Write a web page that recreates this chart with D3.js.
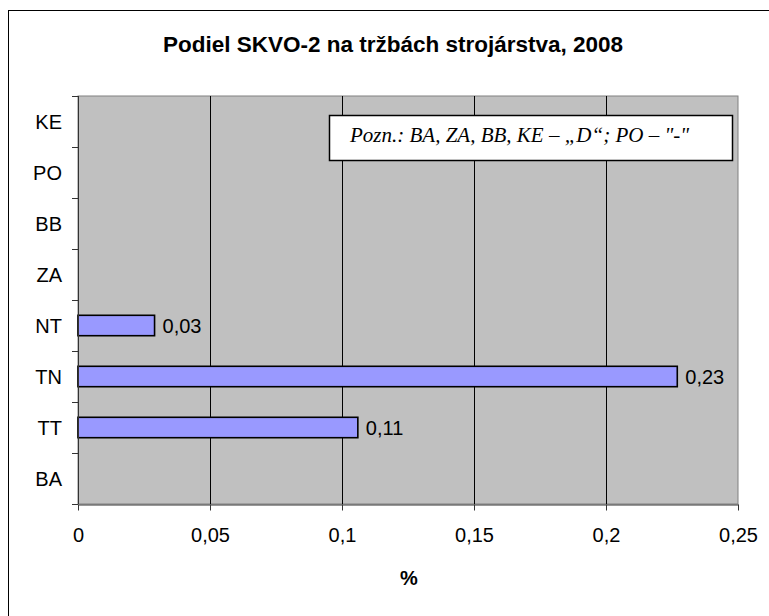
<!DOCTYPE html>
<html>
<head>
<meta charset="utf-8">
<script src="https://cdn.jsdelivr.net/npm/d3@7"></script>
<style>
  body { margin: 0; background: #fff; }
  svg { display: block; }
</style>
</head>
<body>
<script>
// regions top to bottom, as on the chart
const regions = ["KE", "PO", "BB", "ZA", "NT", "TN", "TT", "BA"];
// share in % (null = no data shown)
const shares = [null, null, null, null, 0.029, 0.227, 0.106, null];
const xTicks = [0, 0.05, 0.1, 0.15, 0.2, 0.25];

const titleText = "Podiel SKVO-2 na tržbách strojárstva, 2008";
const noteText = "Pozn.: BA, ZA, BB, KE – „D“; PO – \"-\"";
const axisTitle = "%";

const w = 769, h = 616;
const plot = { left: 78, right: 738, top: 96, bottom: 504 };

const sk = d3.formatLocale({ decimal: ",", thousands: " ", grouping: [3], currency: ["", " €"] });
const tickFmt = sk.format(".2~f");
const labelFmt = sk.format(".2f");

const svg = d3.select("body").append("svg")
    .attr("width", w)
    .attr("height", h)
    .style("font-family", "Arial, 'Liberation Sans', sans-serif");

// outer chart frame (runs past the picture edge at right and bottom)
svg.append("rect")
    .attr("x", 8.5).attr("y", 10.5)
    .attr("width", 900).attr("height", 800)
    .attr("fill", "#fff")
    .attr("stroke", "#000");

svg.append("text")
    .attr("x", 393).attr("y", 52)
    .attr("text-anchor", "middle")
    .style("font-size", "22.5px")
    .style("font-weight", "bold")
    .text(titleText);

let x = d3.scaleLinear().domain([0, 0.25]).range([plot.left, plot.right]);
let y = d3.scaleBand().domain(regions).range([plot.top, plot.bottom])
    .paddingInner(0.6).paddingOuter(0.3);

// plot area
svg.append("rect")
    .attr("x", plot.left).attr("y", plot.top)
    .attr("width", plot.right - plot.left).attr("height", plot.bottom - plot.top)
    .attr("fill", "#c0c0c0")
    .attr("stroke", "#808080");

// vertical gridlines
svg.selectAll(".grid")
    .data(xTicks.filter(function (d) { return d > 0 && d < 0.25; }))
    .enter()
    .append("line")
    .attr("x1", function (d) { return Math.round(x(d)) + 0.5; })
    .attr("x2", function (d) { return Math.round(x(d)) + 0.5; })
    .attr("y1", plot.top)
    .attr("y2", plot.bottom)
    .attr("stroke", "#000");

// bars
let data = regions.map(function (r, i) { return { region: r, value: shares[i] }; })
    .filter(function (d) { return d.value !== null; });

svg.selectAll(".bar")
    .data(data)
    .enter()
    .append("rect")
    .attr("class", "bar")
    .attr("x", x(0))
    .attr("y", function (d) { return y(d.region); })
    .attr("width", function (d) { return x(d.value) - x(0); })
    .attr("height", y.bandwidth())
    .attr("fill", "#9999ff")
    .attr("stroke", "#000")
    .attr("stroke-width", 1.6);

svg.selectAll(".val")
    .data(data)
    .enter()
    .append("text")
    .attr("x", function (d) { return x(d.value) + 8; })
    .attr("y", function (d) { return y(d.region) + y.bandwidth() / 2 + 7; })
    .style("font-size", "20px")
    .text(function (d) { return labelFmt(d.value); });

// category axis: ticks sit between the bands
let yAxis = svg.append("g")
    .attr("transform", "translate(" + plot.left + ",0)");
yAxis.append("line")
    .attr("x1", 0.5).attr("x2", 0.5)
    .attr("y1", plot.top).attr("y2", plot.bottom)
    .attr("stroke", "#333");
yAxis.selectAll(".ytick")
    .data(d3.range(regions.length + 1))
    .enter()
    .append("line")
    .attr("x1", -6).attr("x2", 0)
    .attr("y1", function (i) { return plot.top + i * y.step() + 0.5; })
    .attr("y2", function (i) { return plot.top + i * y.step() + 0.5; })
    .attr("stroke", "#333");
yAxis.selectAll(".ylab")
    .data(regions)
    .enter()
    .append("text")
    .attr("x", -16)
    .attr("y", function (d) { return y(d) + y.bandwidth() / 2 + 7; })
    .attr("text-anchor", "end")
    .style("font-size", "20px")
    .text(function (d) { return d; });

// value axis
let xAxis = svg.append("g")
    .attr("transform", "translate(0," + (plot.bottom + 0.5) + ")")
    .call(d3.axisBottom(x).tickValues(xTicks).tickFormat(tickFmt).tickSize(6).tickSizeOuter(0));
xAxis.select(".domain").attr("stroke", "#333");
xAxis.selectAll(".tick line").attr("stroke", "#333");
xAxis.selectAll(".tick text")
    .attr("y", 0)
    .attr("dy", 0)
    .attr("transform", "translate(0,37)")
    .style("font-size", "20px")
    .style("font-family", "Arial, 'Liberation Sans', sans-serif")
    .attr("fill", "#000");

svg.append("text")
    .attr("x", 409).attr("y", 585)
    .attr("text-anchor", "middle")
    .style("font-size", "20px")
    .style("font-weight", "bold")
    .text(axisTitle);

// note box
svg.append("rect")
    .attr("x", 329.5).attr("y", 115.5)
    .attr("width", 403).attr("height", 45)
    .attr("fill", "#fff")
    .attr("stroke", "#000")
    .attr("stroke-width", 1.5);
svg.append("text")
    .attr("x", 350).attr("y", 142)
    .style("font-family", "'Liberation Serif', 'Times New Roman', serif")
    .style("font-style", "italic")
    .style("font-size", "21px")
    .text(noteText);
</script>
</body>
</html>
